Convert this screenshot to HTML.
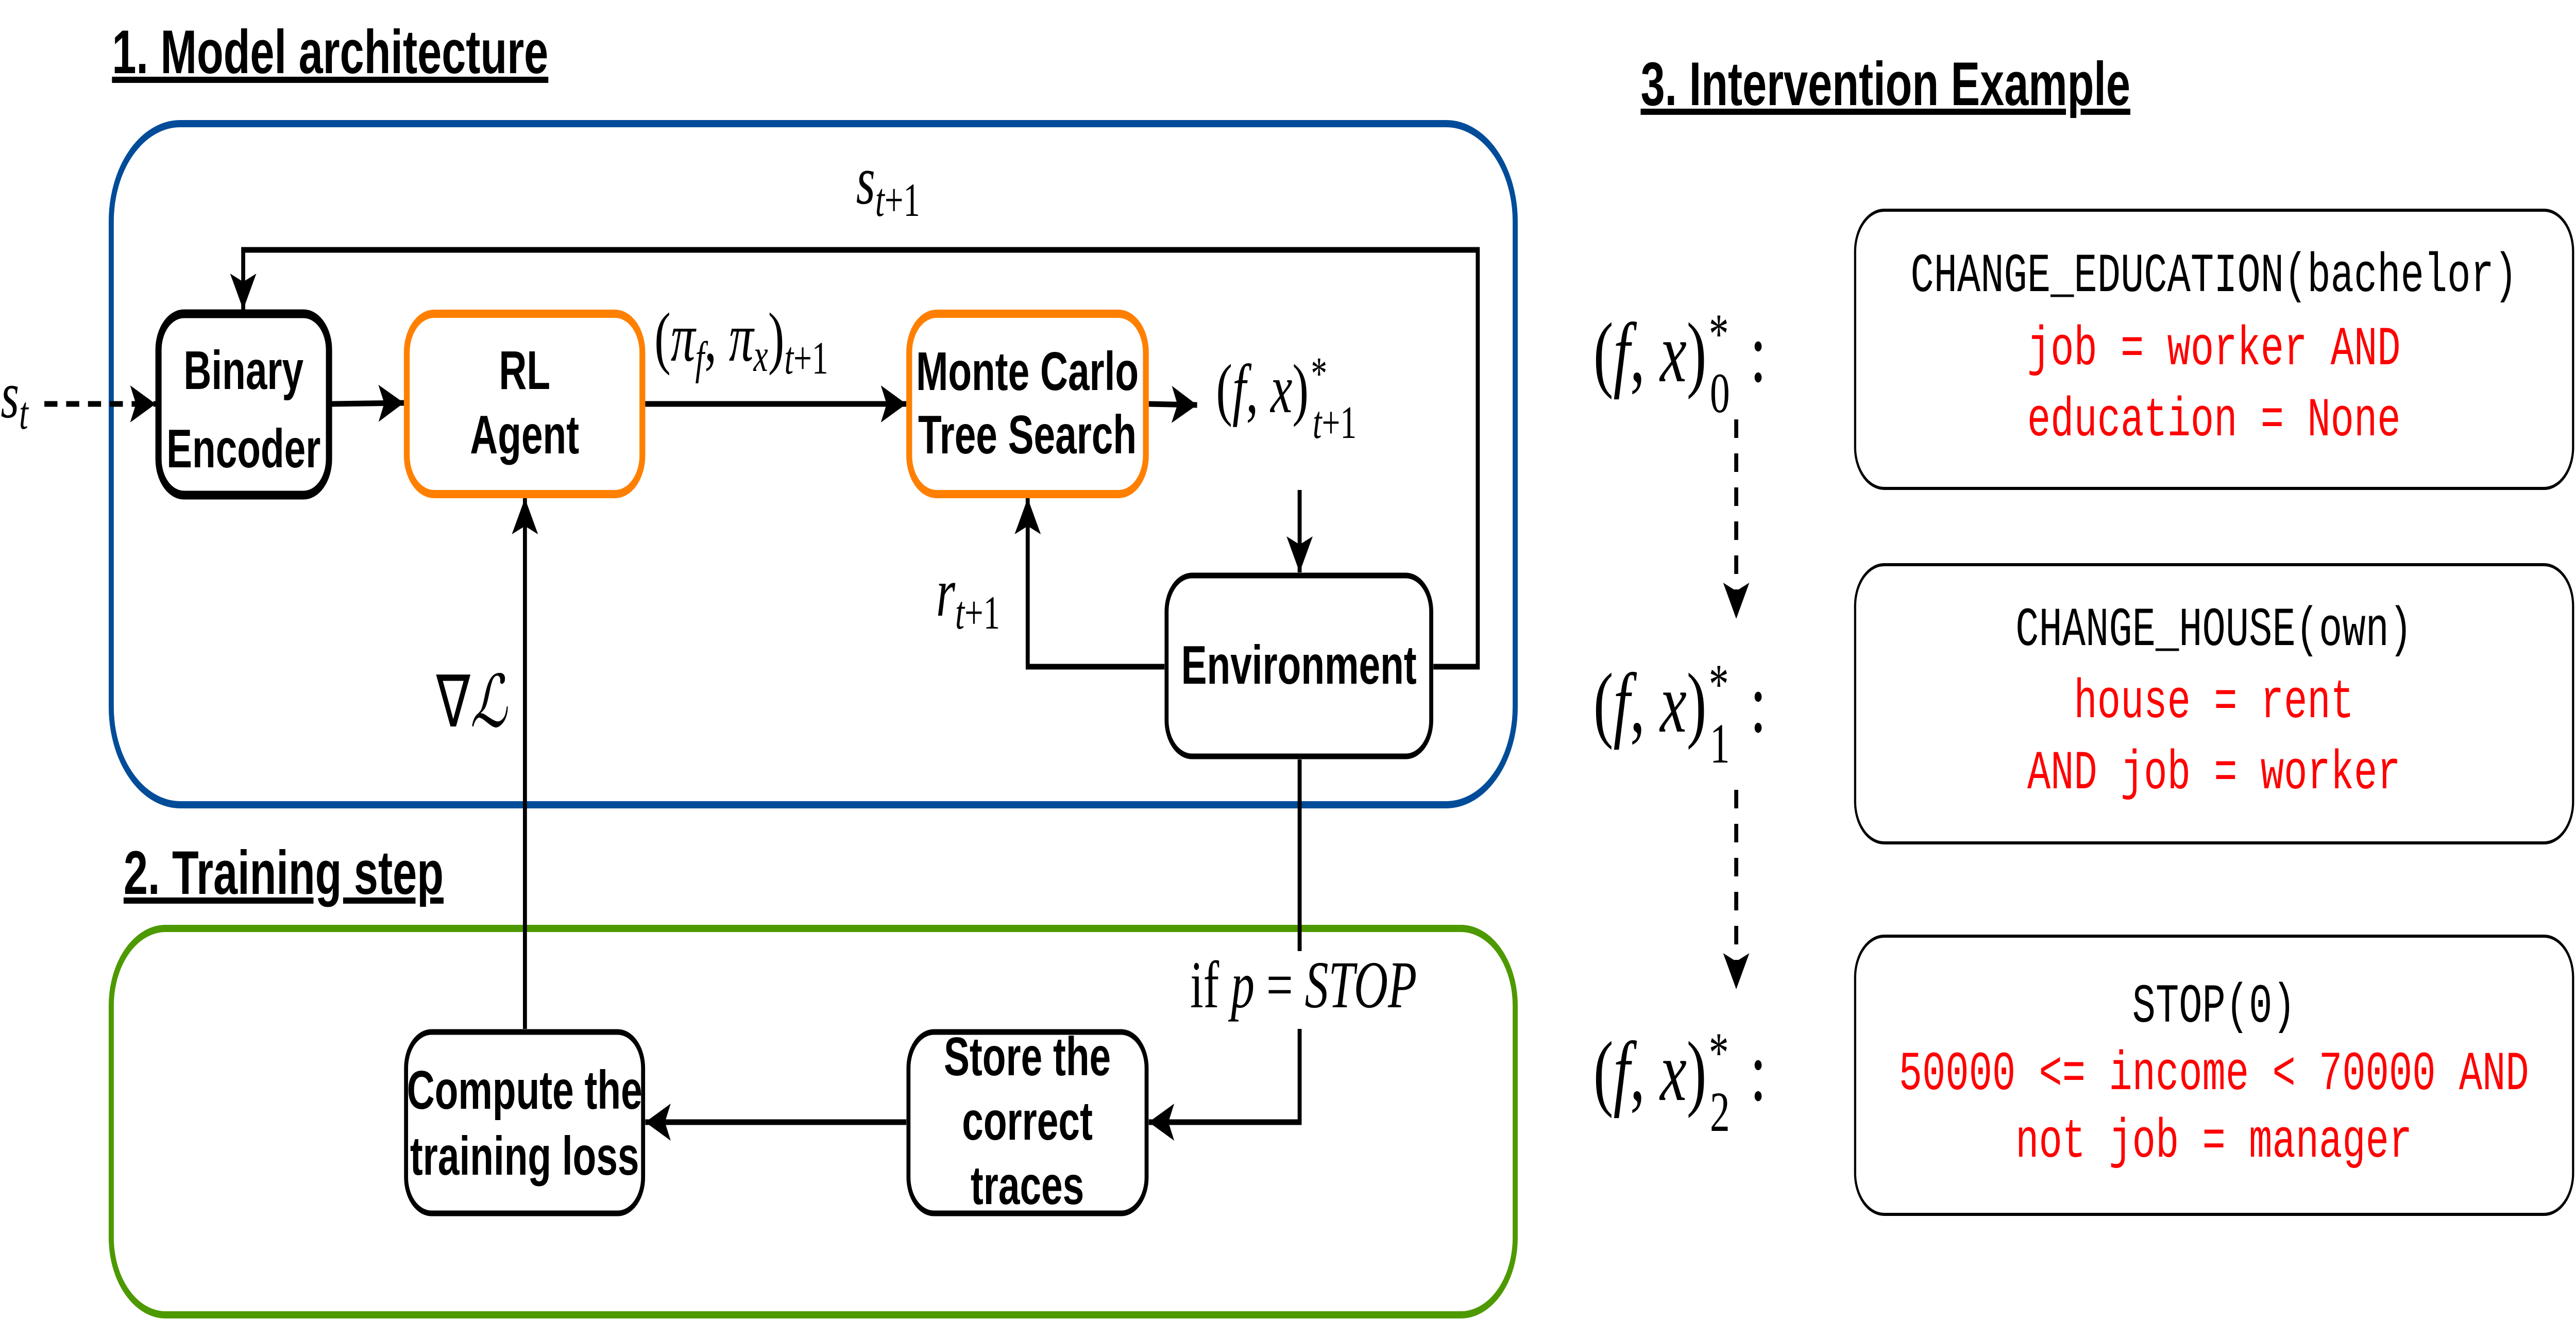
<!DOCTYPE html>
<html><head><meta charset="utf-8">
<style>
html,body{margin:0;padding:0;background:#fff;width:100%;height:100%;overflow:hidden;}
svg{display:block;width:100vw;height:100vh;}
.t{font-family:"Liberation Sans",sans-serif;font-weight:bold;font-size:106px;text-anchor:middle;fill:#000;}
.h{font-family:"Liberation Sans",sans-serif;font-weight:bold;font-size:120px;fill:#000;text-decoration:underline;}
.m{font-family:"Liberation Serif",serif;font-style:italic;fill:#000;}
.r{font-family:"Liberation Serif",serif;fill:#000;}
.c{font-family:"Liberation Mono",monospace;font-size:107px;text-anchor:middle;}
</style></head><body>
<svg viewBox="0 0 7086 2562" preserveAspectRatio="none" xmlns="http://www.w3.org/2000/svg">
<defs>
<marker id="a" markerUnits="userSpaceOnUse" markerWidth="80" markerHeight="80" refX="70" refY="36" orient="auto">
<path d="M0,0 L70,36 L0,72 L16,36 Z" fill="#000"/>
</marker>
</defs>
<text class="h" x="308" y="142">1. Model architecture</text>
<text class="h" x="340" y="1735">2. Training step</text>
<text class="h" x="4513" y="204">3. Intervention Example</text>
<rect x="306" y="240" width="3862" height="1322" rx="190" fill="none" stroke="#004C99" stroke-width="14"/>
<rect x="306" y="1802" width="3862" height="750" rx="150" fill="none" stroke="#4D9900" stroke-width="14"/>
<g stroke="#000" stroke-width="11" fill="none">
<line x1="122" y1="784" x2="428" y2="784" stroke-dasharray="36,24" marker-end="url(#a)"/>
<line x1="913" y1="784" x2="1111" y2="782" marker-end="url(#a)"/>
<line x1="1775" y1="784" x2="2493" y2="784" marker-end="url(#a)"/>
<line x1="3160" y1="784" x2="3293" y2="786" marker-end="url(#a)"/>
<line x1="3575" y1="951" x2="3575" y2="1111" marker-end="url(#a)"/>
<polyline points="3943,1294 4065,1294 4065,485 669,485 669,601" marker-end="url(#a)"/>
<polyline points="3203,1294 2827,1294 2827,967" marker-end="url(#a)"/>
<line x1="1444" y1="1997" x2="1444" y2="967" marker-end="url(#a)"/>
<line x1="3575" y1="1474" x2="3575" y2="1846"/>
<polyline points="3575,1997 3575,2178 3160,2178" marker-end="url(#a)"/>
<line x1="2493" y1="2178" x2="1775" y2="2178" marker-end="url(#a)"/>
<line x1="4776" y1="814" x2="4776" y2="1201" stroke-dasharray="36,30" marker-end="url(#a)"/>
<line x1="4776" y1="1533" x2="4776" y2="1920" stroke-dasharray="36,30" marker-end="url(#a)"/>
</g>
<rect x="436" y="609" width="469" height="352" rx="70" fill="#fff" stroke="#000" stroke-width="17"/>
<rect x="1119" y="609" width="648" height="350" rx="75" fill="#fff" stroke="#FF8000" stroke-width="16"/>
<rect x="2501" y="609" width="651" height="350" rx="75" fill="#fff" stroke="#FF8000" stroke-width="16"/>
<rect x="3209" y="1117" width="728" height="351" rx="70" fill="#fff" stroke="#000" stroke-width="11"/>
<rect x="1117" y="2003" width="652" height="352" rx="70" fill="#fff" stroke="#000" stroke-width="11"/>
<rect x="2499" y="2003" width="655" height="352" rx="70" fill="#fff" stroke="#000" stroke-width="11"/>
<text class="t" x="670" y="755">Binary</text>
<text class="t" x="670" y="907">Encoder</text>
<text class="t" x="1443" y="755">RL</text>
<text class="t" x="1443" y="880">Agent</text>
<text class="t" x="2826" y="757">Monte Carlo</text>
<text class="t" x="2826" y="880">Tree Search</text>
<text class="t" x="3573" y="1327">Environment</text>
<text class="t" x="1443" y="2152">Compute the</text>
<text class="t" x="1443" y="2280">training loss</text>
<text class="t" x="2826" y="2087">Store the</text>
<text class="t" x="2826" y="2212">correct</text>
<text class="t" x="2826" y="2337">traces</text>
<text class="m" x="2" y="810" font-size="130">s<tspan font-size="90" dy="22">t</tspan></text>
<text class="m" x="2355" y="395" font-size="135">s<tspan font-size="92" dy="24">t</tspan><tspan class="r" font-style="normal" font-size="92">+1</tspan></text>
<text class="r" x="1800" y="700" font-size="135">(<tspan class="m">π</tspan><tspan class="m" font-size="90" dy="25">f</tspan><tspan dy="-25">, </tspan><tspan class="m">π</tspan><tspan class="m" font-size="90" dy="20">x</tspan><tspan dy="-20">)</tspan><tspan font-size="90" dy="25"><tspan class="m">t</tspan>+1</tspan></text>
<text class="r" x="3345" y="800" font-size="135">(<tspan class="m">f</tspan>, <tspan class="m">x</tspan>)<tspan font-size="90" dx="6" dy="-45">*</tspan><tspan font-size="90" dx="-40" dy="95"><tspan class="m">t</tspan>+1</tspan></text>
<text class="m" x="2575" y="1195" font-size="135">r<tspan font-size="92" dy="25">t</tspan><tspan class="r" font-style="normal" font-size="92">+1</tspan></text>
<text class="r" x="1200" y="1410" font-size="140">∇<tspan font-family="DejaVu Serif" font-style="italic">ℒ</tspan></text>
<text class="r" x="3274" y="1955" font-size="130">if <tspan class="m">p</tspan> = <tspan class="m">STOP</tspan></text>
<rect x="5103" y="408" width="1975" height="540" rx="80" fill="#fff" stroke="#000" stroke-width="6"/>
<rect x="5103" y="1096" width="1975" height="540" rx="80" fill="#fff" stroke="#000" stroke-width="6"/>
<rect x="5103" y="1817" width="1975" height="540" rx="80" fill="#fff" stroke="#000" stroke-width="6"/>
<text class="c" x="6090" y="565" fill="#000">CHANGE_EDUCATION(bachelor)</text>
<text class="c" x="6090" y="707" fill="#FF0000">job = worker AND</text>
<text class="c" x="6090" y="845" fill="#FF0000">education = None</text>
<text class="c" x="6090" y="1252" fill="#000">CHANGE_HOUSE(own)</text>
<text class="c" x="6090" y="1392" fill="#FF0000">house = rent</text>
<text class="c" x="6090" y="1530" fill="#FF0000">AND job = worker</text>
<text class="c" x="6090" y="1983" fill="#000">STOP(0)</text>
<text class="c" x="6090" y="2114" fill="#FF0000">50000 &lt;= income &lt; 70000 AND</text>
<text class="c" x="6090" y="2245" fill="#FF0000">not job = manager</text>
<text class="r" x="4383" y="740" font-size="165">(<tspan class="m">f</tspan>, <tspan class="m">x</tspan>)<tspan font-size="110" dx="6" dy="-55">*</tspan><tspan font-size="110" dx="-52" dy="115">0</tspan><tspan dx="55" dy="-60">:</tspan></text>
<text class="r" x="4383" y="1420" font-size="165">(<tspan class="m">f</tspan>, <tspan class="m">x</tspan>)<tspan font-size="110" dx="6" dy="-55">*</tspan><tspan font-size="110" dx="-52" dy="115">1</tspan><tspan dx="55" dy="-60">:</tspan></text>
<text class="r" x="4383" y="2135" font-size="165">(<tspan class="m">f</tspan>, <tspan class="m">x</tspan>)<tspan font-size="110" dx="6" dy="-55">*</tspan><tspan font-size="110" dx="-52" dy="115">2</tspan><tspan dx="55" dy="-60">:</tspan></text>
</svg>
</body></html>
